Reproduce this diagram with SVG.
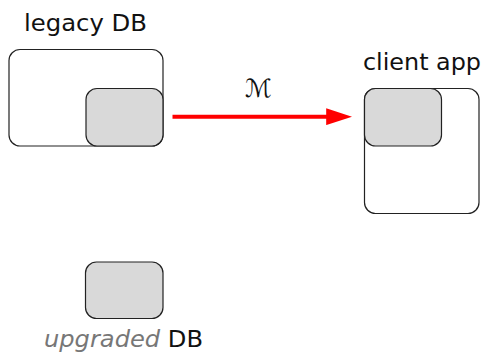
<svg xmlns="http://www.w3.org/2000/svg" width="483" height="353" viewBox="0 0 483 353">
  <defs>
    <marker id="head" markerWidth="6.5" markerHeight="4.2" refX="0.2" refY="2.1" orient="auto" markerUnits="strokeWidth">
      <path d="M0,0 L6.5,2.1 L0,4.2 Z" fill="#ff0000"/>
    </marker>
  </defs>
  <style>
    .frame { fill: #ffffff; stroke: #222222; stroke-width: 1.2; }
    .store { fill: #d9d9d9; stroke: #222222; stroke-width: 1.2; }
    .label { font-family: "DejaVu Sans", "Liberation Sans", sans-serif; font-size: 23px; fill: #111111; }
    .muted { fill: #777777; font-style: italic; }
    .edge { stroke: #ff0000; stroke-width: 4; fill: none; }
  </style>
  <rect width="483" height="353" fill="#ffffff"/>

  <g id="legacy-db">
    <text class="label" x="24" y="31" textLength="123" lengthAdjust="spacingAndGlyphs">legacy DB</text>
    <rect class="frame" x="9" y="49.5" width="154" height="96.5" rx="11"/>
    <rect class="store" x="86" y="88.5" width="77" height="57.5" rx="11"/>
  </g>

  <g id="client-app">
    <text class="label" x="363" y="69.5" textLength="118" lengthAdjust="spacingAndGlyphs">client app</text>
    <rect class="frame" x="364.5" y="88.5" width="114.5" height="125" rx="11"/>
    <rect class="store" x="364.5" y="88.5" width="77" height="57.5" rx="11"/>
  </g>

  <g id="upgraded-db">
    <rect class="store" x="85.5" y="262" width="77.5" height="56.5" rx="11"/>
    <text class="label" x="44" y="346.5" textLength="159" lengthAdjust="spacingAndGlyphs"><tspan class="muted">upgraded</tspan> DB</text>
  </g>

  <g id="connectors">
    <line class="edge" x1="172.5" y1="116.7" x2="327" y2="116.7" marker-end="url(#head)"/>
    <text x="258" y="97" text-anchor="middle" font-family="DejaVu Sans, Liberation Serif, serif" font-size="25" fill="#111111">ℳ</text>
  </g>
</svg>
